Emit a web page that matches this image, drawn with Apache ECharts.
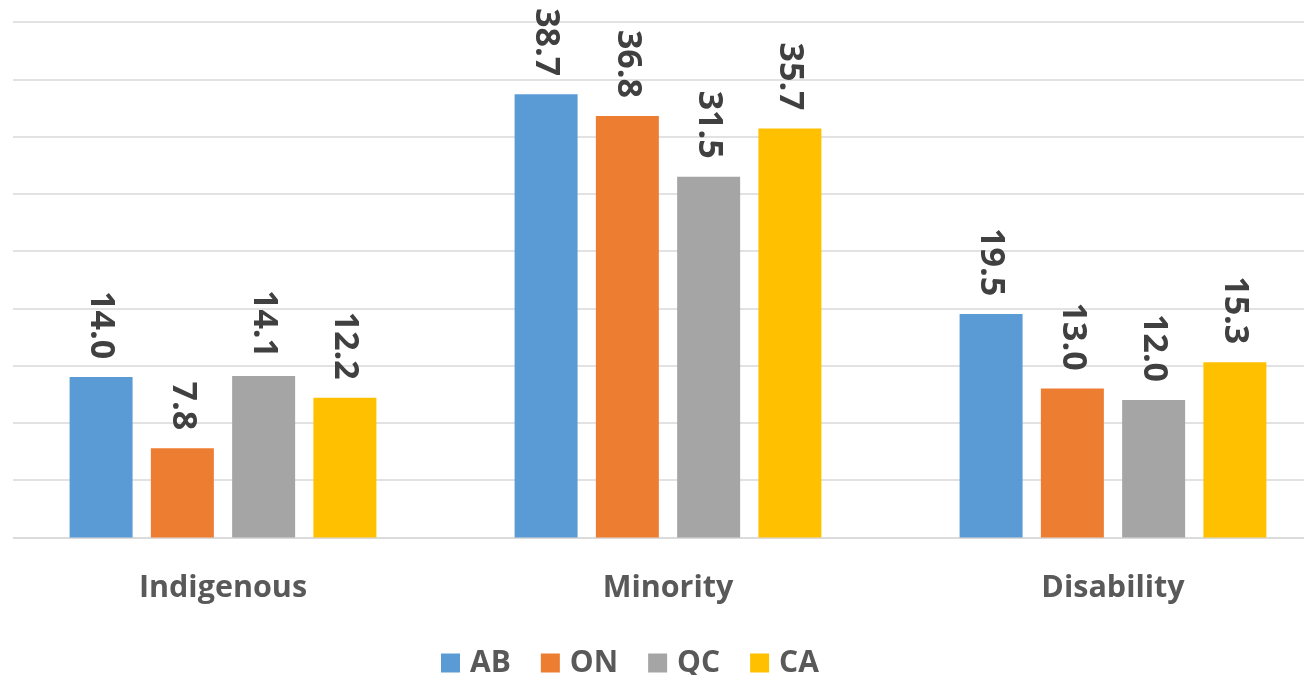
<!DOCTYPE html>
<html>
<head>
<meta charset="utf-8">
<script src="https://cdn.jsdelivr.net/npm/echarts@6/dist/echarts.min.js"></script>
<style>html,body{margin:0;padding:0;background:#fff}#c{width:1304px;height:675px}</style>
</head>
<body>
<div id="c"></div>
<script>
const categories = ['Indigenous', 'Minority', 'Disability'];
const seriesNames = ['AB', 'ON', 'QC', 'CA'];
const AB = [14.0, 38.7, 19.5];
const ON = [7.8, 36.8, 13.0];
const QC = [14.1, 31.5, 12.0];
const CA = [12.2, 35.7, 15.3];
const colors = ['#5B9BD5', '#ED7D31', '#A5A5A5', '#FFC000'];
const yMin = 0, yMax = 45, yStep = 5;

const chart = echarts.init(document.getElementById('c'));
const FONT = '"Open Sans", "Liberation Sans", sans-serif';
const dataSets = [AB, ON, QC, CA];
chart.setOption({
  animation: false,
  backgroundColor: '#fff',
  color: colors,
  grid: { left: 0.5, top: 22, right: -31.5, height: 515.5, containLabel: false, outerBoundsMode: 'none' },
  legend: {
    data: seriesNames,
    left: 436, top: 643,
    itemWidth: 19, itemHeight: 19, itemGap: 30,
    icon: 'rect',
    textStyle: { fontFamily: FONT, fontWeight: 'bold', fontSize: 30, color: '#595959', padding: [0, 0, 0, 5] }
  },
  xAxis: {
    type: 'category', data: categories,
    axisTick: { show: false },
    axisLine: { lineStyle: { color: '#D9D9D9', width: 1.5 } },
    axisLabel: { margin: 35, fontFamily: FONT, fontWeight: 'bold', fontSize: 30.5, color: '#595959' }
  },
  yAxis: {
    type: 'value', min: yMin, max: yMax, interval: yStep,
    axisLabel: { show: false }, axisLine: { show: false }, axisTick: { show: false },
    splitLine: { lineStyle: { color: '#D9D9D9', width: 1.5 } }
  },
  series: dataSets.map((d, i) => ({
    name: seriesNames[i], type: 'bar', data: d,
    barWidth: 63, barGap: '29%',
    label: {
      show: true, position: 'top', distance: 18, rotate: -90,
      align: 'right', verticalAlign: 'middle',
      formatter: p => p.value.toFixed(1),
      fontFamily: FONT, fontWeight: 'bold', fontSize: 34, color: '#404040'
    }
  })),
  graphic: [{ type: 'rect', left: 0, top: 0, shape: { width: 13, height: 560 }, style: { fill: '#fff' }, z: 100 }]
});
</script>
</body>
</html>
